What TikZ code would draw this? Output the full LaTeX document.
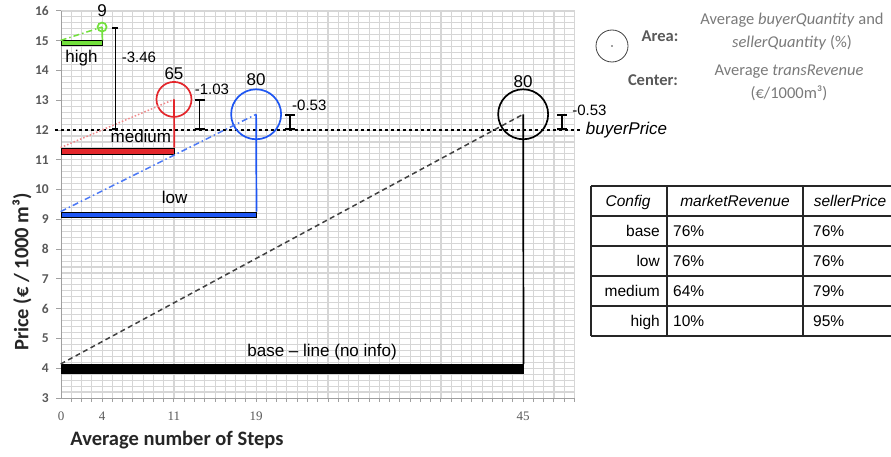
\documentclass[tikz,border=0pt]{standalone}
\usepackage{fontspec}
\setmainfont{Liberation Sans}
\newfontfamily\carlito{Carlito}
\newfontfamily\serifnum{Liberation Serif}
\usepackage{tikz}
\usetikzlibrary{positioning,arrows.meta,fit,calc}
\definecolor{gridgray}{HTML}{D6D6D6}
\definecolor{axisgray}{HTML}{A0A0A0}
\definecolor{inkgray}{HTML}{595959}
\definecolor{leggray}{HTML}{7A7A7A}
\definecolor{highgreen}{HTML}{72E03C}
\definecolor{medred}{HTML}{E3262B}
\definecolor{lowblue}{HTML}{1E56F2}
\newcommand{\fs}[1]{\fontsize{#1}{#1}\selectfont}
\tikzset{
  gridline/.style = {draw=gridgray, line width=1.1pt},
  axisline/.style = {draw=axisgray, line width=1pt},
  ynum/.style     = {font=\carlito\bfseries\fs{13.5}, text=inkgray, inner sep=0pt},
  xnum/.style     = {font=\serifnum\fs{13}, text=inkgray, inner sep=0pt},
  axtitle/.style  = {font=\carlito\bfseries\fs{20.5}, text=black!85, inner sep=0pt},
  pricebar/.style = {rectangle, draw=black, fill=#1, line width=0.7pt, inner sep=0pt},
  bubble/.style   = {circle, draw=#1, line width=1.7pt, inner sep=0pt},
  drop/.style     = {draw=#1, line width=1.7pt},
  trend/.style    = {line width=1.5pt, draw=#1},
  dashdot/.style  = {dash pattern=on 6pt off 3pt on 1.5pt off 3pt},
  numlabel/.style = {font=\fs{17}, inner sep=0pt},
  gaplabel/.style = {font=\fs{15}, inner sep=0pt},
  barname/.style  = {font=\fs{17}, inner sep=0pt},
  errbar/.style   = {{Bar[width=#1]}-{Bar[width=#1]}, line width=1.7pt},
  errbar/.default = 10pt,
  refline/.style  = {dash pattern=on 3.5pt off 2.5pt, line width=1.5pt},
  refname/.style  = {font=\itshape\fs{17}, inner sep=0pt},
  legtext/.style  = {font=\carlito\fontsize{16.5}{23}\selectfont, text=leggray, align=center, inner sep=0pt},
  legkey/.style   = {font=\carlito\bfseries\fs{16.5}, text=inkgray, inner sep=0pt},
  cell/.style     = {font=\fs{15.5}, inner sep=0pt},
  tabrule/.style  = {draw=black!85, line width=1.3pt},
}

\begin{document}
\begin{tikzpicture}[x=1pt, y=1pt]
  \useasboundingbox (0,0) rectangle (891,456);

  % chart, in steps / price units
  \begin{scope}[shift={(61pt,-31.31pt)}, x=10.27pt, y=29.77pt]
    \foreach \s in {1,...,50} \draw[gridline] (\s,3) -- (\s,16);
    \foreach \k in {1,...,65} \draw[gridline] (0,{3+\k*0.2}) -- (50,{3+\k*0.2});
    \draw[axisline] (0,3) -- (0,16);
    \draw[axisline] (0,3) -- (50,3);
    \foreach \v in {3,...,16} {
      \draw[axisline] (0,\v) -- ++(-5pt,0);
      \node[ynum, left=12pt] (y\v) at (0,\v) {\v};
    }
    \foreach \s in {1,...,50} \draw[axisline] (\s,3) -- ++(0,-4pt);
    \foreach \s in {0,4,11,19,45} \node[xnum, below=14pt] (x\s) at (\s,3) {\s};

    % buyerPrice
    \coordinate (refL) at (-0.6,12);
    \coordinate (refR) at (50.7,12);
    \draw[refline] (refL) -- (refR);
    \node[refname, right=4pt of refR] (refT) {buyerPrice};

    % bars
    \node[pricebar=highgreen, fit={(0,14.84) (4,15.0)}] (hbar) {};
    \node[pricebar=medred, fit={(0,11.2) (11,11.4)}] (mbar) {};
    \node[pricebar=lowblue, fit={(0,9.08) (19,9.25)}] (lbar) {};
    \node[pricebar=black, fit={(0,3.83) (45,4.13)}] (bbar) {};

    % bubbles
    \node[bubble=highgreen, minimum size=9pt] (hc) at (4,15.46) {};
    \node[bubble=medred, minimum size=35pt] (mc) at (11,13.03) {};
    \node[bubble=lowblue, minimum size=50pt] (lc) at (19,12.53) {};
    \node[bubble=black, minimum size=50pt] (bc) at (45,12.53) {};
    \node[numlabel, above=5pt of hc] (hn) {9};
    \node[numlabel, above=1pt of mc] (mn) {65};
    \node[numlabel, above=3pt of lc] (ln) {80};
    \node[numlabel, above=1pt of bc] (bn) {80};

    % trends and drops
    \draw[trend=highgreen, dashdot] (hbar.north west) -- (hc.center);
    \draw[trend=medred!55, dotted] (mbar.north west) -- (mc.center);
    \draw[trend=lowblue!80, dashdot] (lbar.north west) -- (lc.center);
    \draw[trend=black!75, dash pattern=on 5pt off 3.5pt] (bbar.north west) -- (bc.center);
    \draw[drop=highgreen] (hbar.north east) -- (hc.center);
    \draw[drop=medred] (mbar.north east) -- (mc.center);
    \draw[drop=lowblue] (lbar.north east) -- (lc.center);
    \draw[drop=black] (bbar.north east) -- (bc.center);

    % gaps to buyerPrice
    \coordinate (hgTop) at (5.3,15.46);  \coordinate (hgBot) at (5.3,12);
    \coordinate (mdTop) at (13.5,13.03); \coordinate (mdBot) at (13.5,12);
    \coordinate (lwTop) at (22.3,12.53); \coordinate (lwBot) at (22.3,12);
    \coordinate (bsTop) at (48.8,12.53); \coordinate (bsBot) at (48.8,12);
    \draw[errbar=6pt] (hgTop) -- (hgBot);
    \draw[errbar] (mdTop) -- (mdBot);
    \draw[errbar] (lwTop) -- (lwBot);
    \draw[errbar] (bsTop) -- (bsBot);
    \node[gaplabel, anchor=west] (hgT) at (5.9,14.45) {-3.46};
    \node[gaplabel, above right=5pt and -5pt of mdTop] (mdT) {-1.03};
    \node[gaplabel, above right=3pt and 2pt of lwTop] (lwT) {-0.53};
    \node[gaplabel, above right=-2pt and 10pt of bsTop] (bsT) {-0.53};

    % bar names
    \node[barname, below=4pt of hbar] (hName) {high};
    \node[barname, above left=5pt and 3pt of mbar.north east] (mName) {medium};
    \node[barname, above=8pt of lbar.north, xshift=16pt] (lName) {low};
    \node[barname, above=4pt of bbar.north, xshift=30pt] (bName) {base – line (no info)};
  \end{scope}

  % axis titles
  \node[axtitle] (xTitle) at (177,16) {Average number of Steps};
  \node[axtitle, rotate=90] (yTitle) at (22,184) {Price (€ / 1000 m³)};

  % legend
  \node[circle, draw=black!75, line width=0.8pt, minimum size=32pt, inner sep=0pt] (key) at (612,410) {};
  \fill[black!75] (key.center) circle (0.8pt);
  \node[legkey] (areaK) at (660,420) {Area:};
  \node[legtext] (areaT) at (792,424) {Average \textit{buyerQuantity} and\\\textit{sellerQuantity} (\%)};
  \node[legkey] (centerK) at (653,376) {Center:};
  \node[legtext] (centerT) at (789,373) {Average \textit{transRevenue}\\(€/1000m³)};

  % table
  \foreach \y in {270,240,210,180,150,120} \draw[tabrule] (591,\y) -- (891,\y);
  \foreach \x in {591,667,803} \draw[tabrule] (\x,270) -- (\x,120);
  \node[cell, font=\itshape\fs{15.5}, anchor=base] (hd1) at (628,249.6) {Config};
  \node[cell, font=\itshape\fs{15.5}, anchor=base] (hd2) at (735,249.6) {marketRevenue};
  \node[cell, font=\itshape\fs{15.5}, anchor=base] (hd3) at (850,249.6) {sellerPrice};
  \foreach \n/\cfg/\mr/\sp in {1/base/76/76, 2/low/76/76, 3/medium/64/79, 4/high/10/95} {
    \node[cell, anchor=base east] (cfg\n) at (660,{249.6-30*\n}) {\cfg};
    \node[cell, anchor=base west] (mr\n) at (673,{249.6-30*\n}) {\mr\%};
    \node[cell, anchor=base west] (sp\n) at (813,{249.6-30*\n}) {\sp\%};
  }
\end{tikzpicture}
\end{document}
